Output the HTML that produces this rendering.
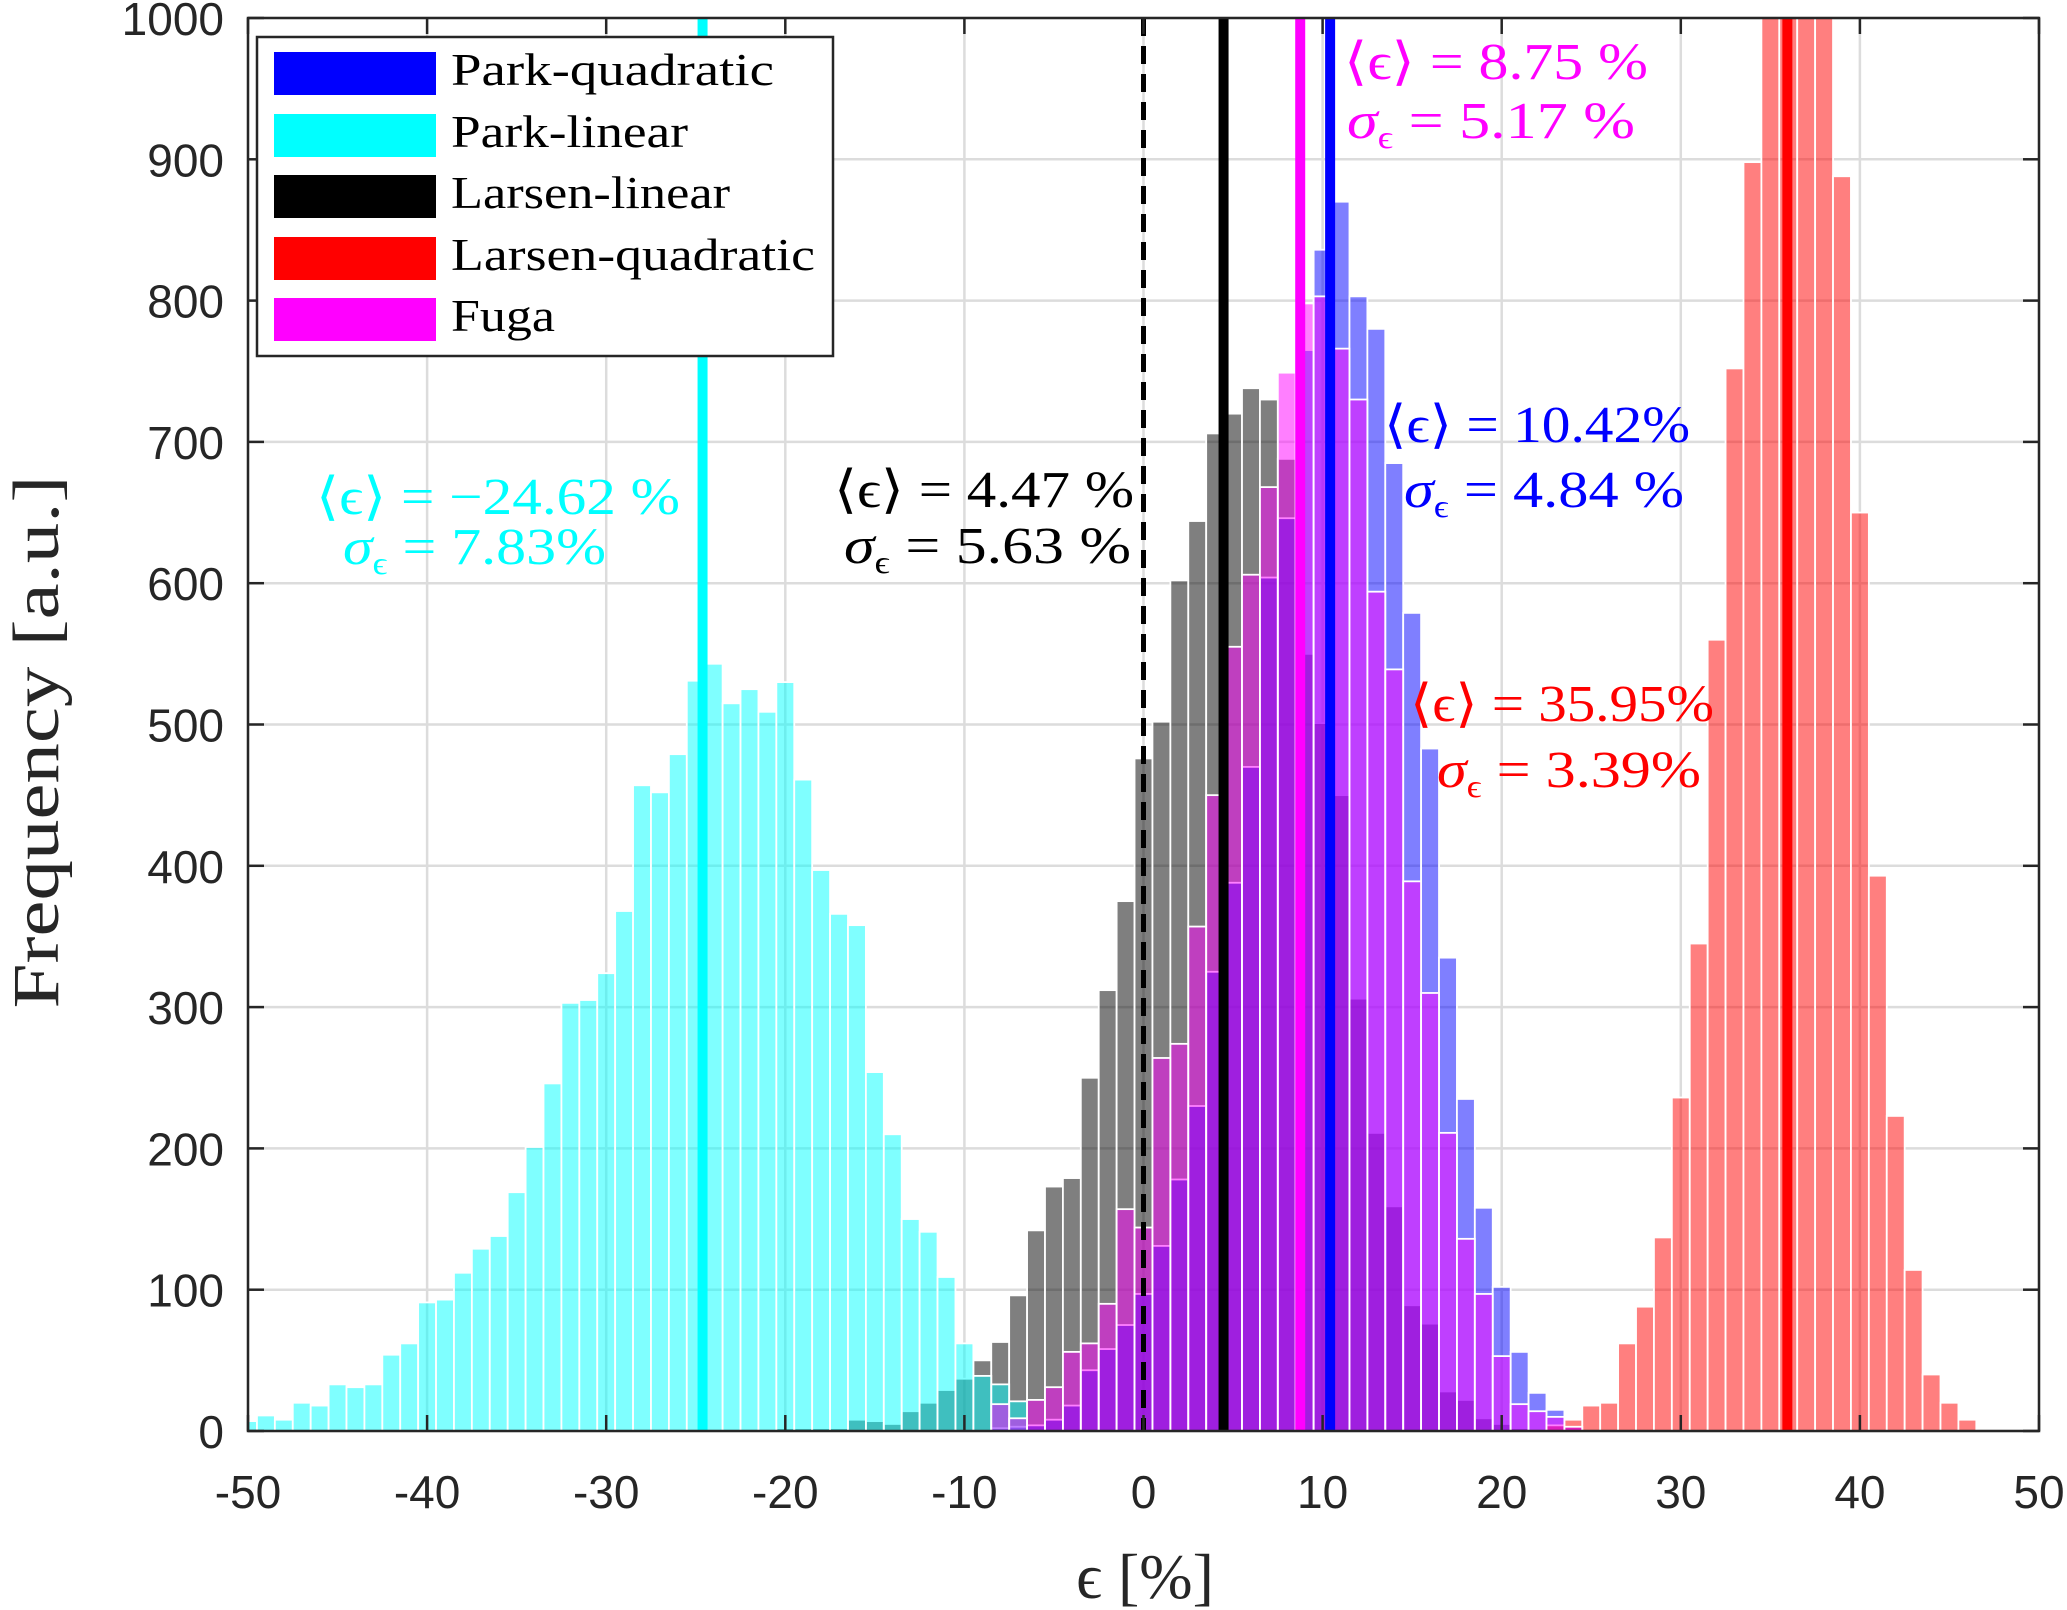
<!DOCTYPE html>
<html><head><meta charset="utf-8"><style>
html,body{margin:0;padding:0;background:#fff;}
svg{display:block;}
.tick{font-family:"Liberation Sans",Arial,sans-serif;font-size:46px;fill:#262626;}
.ser{font-family:"Liberation Serif","DejaVu Serif",serif;}
</style></head><body>
<svg id="chart" width="2067" height="1610" viewBox="0 0 2067 1610" xmlns="http://www.w3.org/2000/svg">
<g id="grid"></g>
<g id="bars"></g>
<g id="lines"></g>
<g id="axes"></g>
<g class="ser" font-size="52">
 <text x="1344" y="79" fill="#ff00ff" textLength="304" lengthAdjust="spacingAndGlyphs">⟨ϵ⟩ = 8.75 %</text>
 <text x="1347" y="138" fill="#ff00ff" textLength="288" lengthAdjust="spacingAndGlyphs"><tspan font-style="italic">σ</tspan><tspan font-size="32" dy="10">ϵ</tspan><tspan dy="-10"> = 5.17 %</tspan></text>
 <text x="1384" y="442" fill="#0000ff" textLength="306" lengthAdjust="spacingAndGlyphs">⟨ϵ⟩ = 10.42%</text>
 <text x="1404" y="507" fill="#0000ff" textLength="280" lengthAdjust="spacingAndGlyphs"><tspan font-style="italic">σ</tspan><tspan font-size="32" dy="10">ϵ</tspan><tspan dy="-10"> = 4.84 %</tspan></text>
 <text x="834" y="507" fill="#000" textLength="300" lengthAdjust="spacingAndGlyphs">⟨ϵ⟩ = 4.47 %</text>
 <text x="844" y="563" fill="#000" textLength="287" lengthAdjust="spacingAndGlyphs"><tspan font-style="italic">σ</tspan><tspan font-size="32" dy="10">ϵ</tspan><tspan dy="-10"> = 5.63 %</tspan></text>
 <text x="316" y="514" fill="#00ffff" textLength="364" lengthAdjust="spacingAndGlyphs">⟨ϵ⟩ = −24.62 %</text>
 <text x="343" y="564" fill="#00ffff" textLength="263" lengthAdjust="spacingAndGlyphs"><tspan font-style="italic">σ</tspan><tspan font-size="32" dy="10">ϵ</tspan><tspan dy="-10"> = 7.83%</tspan></text>
 <text x="1410" y="721" fill="#ff0000" textLength="304" lengthAdjust="spacingAndGlyphs">⟨ϵ⟩ = 35.95%</text>
 <text x="1437" y="787" fill="#ff0000" textLength="264" lengthAdjust="spacingAndGlyphs"><tspan font-style="italic">σ</tspan><tspan font-size="32" dy="10">ϵ</tspan><tspan dy="-10"> = 3.39%</tspan></text>
</g>
<g>
 <rect x="257" y="37" width="576" height="319" fill="#fff" stroke="#262626" stroke-width="2.5"/>
 <rect x="274" y="52" width="162" height="43" fill="#0000ff"/>
 <rect x="274" y="114" width="162" height="43" fill="#00ffff"/>
 <rect x="274" y="175" width="162" height="43" fill="#000"/>
 <rect x="274" y="237" width="162" height="43" fill="#ff0000"/>
 <rect x="274" y="298" width="162" height="43" fill="#ff00ff"/>
 <g class="ser" font-size="46" fill="#000">
  <text x="451" y="85" textLength="323" lengthAdjust="spacingAndGlyphs">Park-quadratic</text>
  <text x="451" y="147" textLength="237" lengthAdjust="spacingAndGlyphs">Park-linear</text>
  <text x="451" y="208" textLength="279" lengthAdjust="spacingAndGlyphs">Larsen-linear</text>
  <text x="451" y="270" textLength="364" lengthAdjust="spacingAndGlyphs">Larsen-quadratic</text>
  <text x="451" y="331" textLength="104" lengthAdjust="spacingAndGlyphs">Fuga</text>
 </g>
</g>
<text class="ser" x="1145" y="1598" font-size="64" text-anchor="middle" fill="#262626">ϵ [%]</text>
<text class="ser" transform="translate(58,742) rotate(-90)" font-size="66" text-anchor="middle" fill="#262626" textLength="533" lengthAdjust="spacingAndGlyphs">Frequency [a.u.]</text>
</svg>
<script>
const xTicks = [-50,-40,-30,-20,-10,0,10,20,30,40,50];
const yTicks = [0,100,200,300,400,500,600,700,800,900,1000];
// Park-linear (cyan), bins centered at integers starting at -50
const parkLinStart = -50;
const parkLinCounts = [7,11,8,20,18,33,31,33,54,62,91,93,112,129,138,169,201,246,303,305,324,368,457,452,479,531,543,515,525,509,530,461,397,366,358,254,210,150,141,109,62,39,33,21];
// Larsen-linear (gray), starting at -20
const larsenLinStart = -20;
const larsenLinCounts = [2,2,2,2,8,7,5,14,20,29,37,50,63,96,142,173,179,250,312,375,476,502,602,644,706,720,738,730,688,550,501,450,306,211,159,89,76,28,22,9,5,2];
// Park-quadratic (blue), starting at -8
const parkQuadStart = -8;
const parkQuadCounts = [2,3,4,8,18,43,58,75,97,131,178,230,325,388,470,604,646,765,836,870,803,780,685,579,483,335,235,158,102,56,27,15,4];
// Fuga (magenta), starting at -8
const fugaStart = -8;
const fugaCounts = [19,9,22,31,56,62,90,157,144,264,274,357,450,555,606,668,749,798,803,766,730,594,539,389,310,211,136,97,53,19,14,10,3];
// Larsen-quadratic (red), starting at 23
const larsenQuadStart = 23;
const larsenQuadCounts = [4,8,18,20,62,88,137,236,345,560,752,898,1050,1050,1050,1050,888,650,393,223,114,40,20,8];
// mean values
const meanNames = ['park-linear','larsen-linear','fuga','park-quadratic','larsen-quadratic'];
const meanValues = [-24.62,4.47,8.75,10.42,35.95];
const meanColors = ['#00ffff','#000000','#ff00ff','#0000ff','#ff0000'];

const NS='http://www.w3.org/2000/svg';
const X0=248,X1=2039,Y0=1431,Y1=18;
function xs(v){return X0+(v+50)*(X1-X0)/100;}
function ys(c){return Y0-c*(Y0-Y1)/1000;}
function mk(tag,attrs,parent){const e=document.createElementNS(NS,tag);for(const k in attrs)e.setAttribute(k,attrs[k]);parent.appendChild(e);return e;}

const grid=document.getElementById('grid');
xTicks.forEach(t=>{const l=mk('line',{x1:xs(t),x2:xs(t),y1:Y1,y2:Y0,stroke:'#dcdcdc','stroke-width':2.5},grid);

});
yTicks.forEach(t=>{const l=mk('line',{x1:X0,x2:X1,y1:ys(t),y2:ys(t),stroke:'#dcdcdc','stroke-width':2.5},grid);

});

const bars=document.getElementById('bars');
const clip=mk('clipPath',{id:'plotclip'},mk('defs',{},bars));
mk('rect',{x:X0,y:Y1,width:X1-X0,height:Y0-Y1},clip);
bars.setAttribute('clip-path','url(#plotclip)');
function drawSeries(name,start,counts,color){
  const g=mk('g',{},bars);
  
  
  counts.forEach((c,i)=>{const v=start+i;
    const r=mk('rect',{x:xs(v-0.5),y:ys(c),width:xs(v+0.5)-xs(v-0.5),height:ys(0)-ys(c),fill:color,'fill-opacity':0.5,stroke:'#fff','stroke-width':1.8},g);
    
    
  });
}
drawSeries('larsen-linear',larsenLinStart,larsenLinCounts,'#000000');
drawSeries('park-quadratic',parkQuadStart,parkQuadCounts,'#0000ff');
drawSeries('park-linear',parkLinStart,parkLinCounts,'#00ffff');
drawSeries('larsen-quadratic',larsenQuadStart,larsenQuadCounts,'#ff0000');
drawSeries('fuga',fugaStart,fugaCounts,'#ff00ff');

const lines=document.getElementById('lines');
const z=mk('line',{x1:xs(0),x2:xs(0),y1:Y1,y2:Y0,stroke:'#000','stroke-width':5,'stroke-dasharray':'18,10'},lines);


meanValues.forEach((m,i)=>{const l=mk('line',{x1:xs(m),x2:xs(m),y1:Y1,y2:Y0,stroke:meanColors[i],'stroke-width':10},lines);

});

const axes=document.getElementById('axes');
const box=mk('rect',{x:X0,y:Y1,width:X1-X0,height:Y0-Y1,fill:'none',stroke:'#262626','stroke-width':2.5},axes);


xTicks.forEach(t=>{
  mk('line',{x1:xs(t),x2:xs(t),y1:Y0,y2:Y0-16,stroke:'#262626','stroke-width':2.5},axes);
  mk('line',{x1:xs(t),x2:xs(t),y1:Y1,y2:Y1+16,stroke:'#262626','stroke-width':2.5},axes);
  const tx=mk('text',{x:xs(t),y:1508,'text-anchor':'middle',class:'tick'},axes);tx.textContent=String(t);
  
  
});
yTicks.forEach(t=>{
  mk('line',{x1:X0,x2:X0+16,y1:ys(t),y2:ys(t),stroke:'#262626','stroke-width':2.5},axes);
  mk('line',{x1:X1,x2:X1-16,y1:ys(t),y2:ys(t),stroke:'#262626','stroke-width':2.5},axes);
  const tx=mk('text',{x:224,y:ys(t)+17,'text-anchor':'end',class:'tick'},axes);tx.textContent=String(t);
  
  
});
</script>
</body></html>
